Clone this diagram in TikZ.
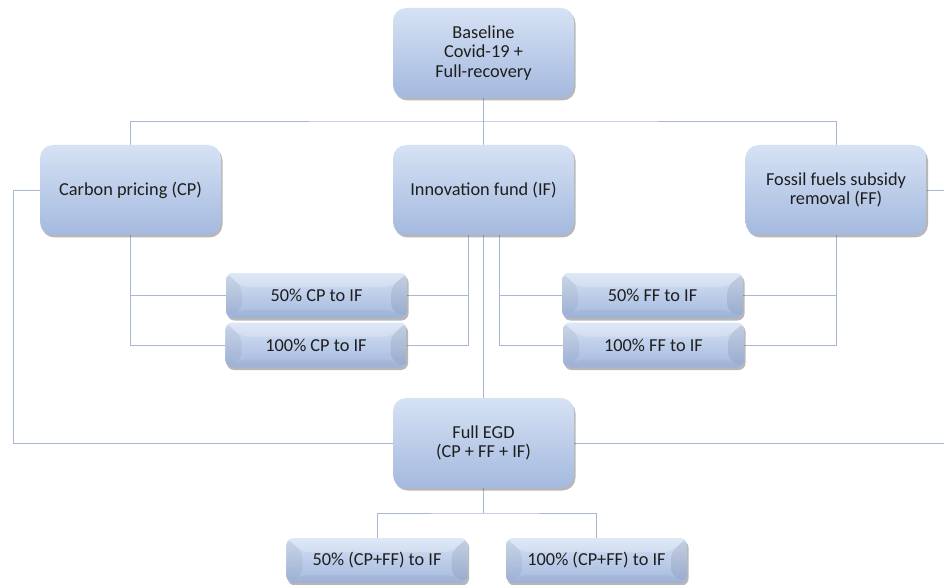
\documentclass[tikz,border=0pt]{standalone}
\usepackage{fontspec}
\setmainfont{Carlito}
\usetikzlibrary{shadows,backgrounds}
\definecolor{boxtop}{HTML}{D6E2F4}
\definecolor{boxbot}{HTML}{A4B9DF}
\definecolor{linec}{HTML}{A9B7D7}
\definecolor{txt}{HTML}{1E1E1E}
\tikzset{
  boxbase/.style={rectangle, draw=none, align=center, text=txt,
    top color=boxtop, bottom color=boxbot, inner sep=2pt,
    font=\fontsize{18.3}{19.5}\selectfont,
    drop shadow={shadow xshift=1.5pt, shadow yshift=-2.5pt, opacity=0.4, fill=black!70}},
  bigbox/.style={boxbase, rounded corners=13pt, minimum width=181pt, minimum height=90pt},
  smallbox/.style={boxbase, rounded corners=7pt, minimum width=181pt, minimum height=45pt,
    path picture={
      \coordinate (nw) at (path picture bounding box.north west);
      \coordinate (ne) at (path picture bounding box.north east);
      \coordinate (sw) at (path picture bounding box.south west);
      \coordinate (se) at (path picture bounding box.south east);
      \fill[white,opacity=0.2] (nw) -- (ne) -- ([xshift=-16pt,yshift=-14pt]ne) -- ([xshift=16pt,yshift=-14pt]nw) -- cycle;
      \fill[black,opacity=0.05] (nw) -- ([xshift=16pt,yshift=-14pt]nw) -- ([xshift=16pt,yshift=8pt]sw) -- (sw) -- cycle;
      \fill[black,opacity=0.08] (ne) -- ([xshift=-16pt,yshift=-14pt]ne) -- ([xshift=-16pt,yshift=8pt]se) -- (se) -- cycle;
      \fill[black,opacity=0.04] (sw) -- ([xshift=16pt,yshift=8pt]sw) -- ([xshift=-16pt,yshift=8pt]se) -- (se) -- cycle;
    }},
  conn/.style={draw=linec, line width=0.9pt}
}
\begin{document}
\begin{tikzpicture}[x=1pt,y=-1pt]
\useasboundingbox (0,0) rectangle (944,585);
\node[bigbox] (base) at (483.5,53) {Baseline\\Covid-19 +\\Full-recovery};
\node[bigbox] (cp) at (130.5,190) {Carbon pricing (CP)};
\node[bigbox] (if) at (483.5,190) {Innovation fund (IF)};
\node[bigbox] (ff) at (836,190) {Fossil fuels subsidy\\removal (FF)};
\node[smallbox] (cp50) at (316.5,295.5) {50\% CP to IF};
\node[smallbox] (cp100) at (316,345) {100\% CP to IF};
\node[smallbox] (ff50) at (652.5,295.5) {50\% FF to IF};
\node[smallbox] (ff100) at (653.5,345) {100\% FF to IF};
\node[bigbox] (egd) at (483.5,443) {Full EGD\\(CP + FF + IF)};
\node[smallbox] (b50) at (377,560.5) {50\% (CP+FF) to IF};
\node[smallbox] (b100) at (596.5,560.5) {100\% (CP+FF) to IF};
\coordinate (H) at (483.5,121);
\coordinate (L) at (13,190);
\coordinate (R1) at (944,190);
\coordinate (R2) at (944,443);
\coordinate (J) at (483.5,513);
\coordinate (IL) at (468,235);
\coordinate (IR) at (499,235);
\begin{scope}[on background layer]
\draw[conn] (base.south) -- (if.north);
\draw[conn] (cp.north) |- (H) -| (ff.north);
\draw[conn] (cp.south) |- (cp100.west);
\draw[conn] (cp50.west) -- (cp50.west -| cp.south);
\draw[conn] (IL) |- (cp100.east);
\draw[conn] (cp50.east) -- (cp50.east -| IL);
\draw[conn] (IR) |- (ff100.west);
\draw[conn] (ff50.west) -- (ff50.west -| IR);
\draw[conn] (ff.south) |- (ff100.east);
\draw[conn] (ff50.east) -- (ff50.east -| ff.south);
\draw[conn] (if.south) -- (egd.north);
\draw[conn] (cp.west) -- (L) |- (egd.west);
\draw[conn] (ff.east) -- (R1);
\draw[conn] (egd.east) -- (R2);
\draw[conn] (egd.south) -- (J);
\draw[conn] (b50.north) |- (J) -| (b100.north);
\end{scope}
\end{tikzpicture}
\end{document}
